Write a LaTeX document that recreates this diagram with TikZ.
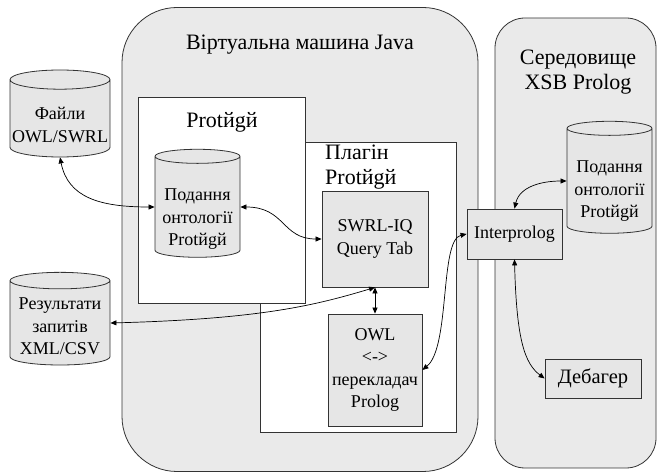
\documentclass[tikz,border=0pt]{standalone}
\usepackage{fontspec}
\setmainfont{Liberation Serif}
\usepackage{tikz}
\usetikzlibrary{arrows.meta, positioning, shapes.geometric}

\definecolor{panelgray}{RGB}{234,234,234}
\definecolor{boxgray}{RGB}{230,230,230}
\newcommand{\bigtext}{\fontsize{22}{25}\selectfont}
\newcommand{\boxtext}{\fontsize{18}{22.5}\selectfont}
% text of a store, lowered a little below the middle of the cylinder
\newcommand{\storelines}[2]{\raisebox{-#1}[\height][\depth]{\begin{tabular}{@{}c@{}}#2\end{tabular}}}

\begin{document}
\begin{tikzpicture}[x=1pt, y=-1pt,
        panel/.style={rectangle, draw=black!80, fill=panelgray, line width=0.8pt},
        frame/.style={rectangle, draw=black!80, fill=white, line width=0.8pt},
        box/.style={rectangle, draw=black!80, fill=boxgray, line width=0.8pt, align=center, inner sep=0pt, font=\boxtext},
        store/.style={cylinder, shape border rotate=90, aspect=0.2, draw=black!80, line width=0.8pt, cylinder uses custom fill, cylinder body fill=boxgray, cylinder end fill=boxgray, inner sep=0pt, font=\boxtext},
        title/.style={align=center, inner sep=0pt, font=\bigtext},
        link/.style={{Triangle[length=6pt,width=5pt]}-{Triangle[length=6pt,width=5pt]}, line width=0.7pt},
    ]
        \useasboundingbox (0,0) rectangle (657,473);

        % Containers
        \node[panel, rounded corners=55pt, minimum width=356pt, minimum height=464pt] (jvm) at (300,239.5) {};
        \node[panel, rounded corners=30pt, minimum width=161pt, minimum height=450pt] (xsb) at (575.5,243) {};
        \node[frame, minimum width=196pt, minimum height=290pt] (plugin) at (358,287) {};
        \node[frame, minimum width=167pt, minimum height=206pt] (protege) at (221.5,200) {};

        % Titles
        \node[title] (jvmtitle) at (300,45) {Віртуальна машина Java};
        \node[title] (xsbtitle) at (578,72) {Середовище\\XSB Prolog};
        \node[title] (protegetitle) at (222,122) {Protйgй};
        \node[title, align=left, anchor=west] (plugintitle) at (325,167) {Плагін\\Protйgй};

        % Boxes
        \node[box, minimum width=106pt, minimum height=96pt] (swrl) at (375,239) {SWRL-IQ\\Query Tab};
        \node[box, minimum width=94pt, minimum height=112pt] (owl) at (375,370) {OWL\\<->\\перекладач\\Prolog};
        \node[box, minimum width=95pt, minimum height=50pt] (interprolog) at (514.5,234) {Interprolog};
        \node[box, minimum width=96pt, minimum height=39pt, font=\fontsize{20.5}{24}\selectfont] (debugger) at (593,378.5) {Дебагер};

        % Stores
        \node[store, minimum width=100pt, minimum height=87pt] (files) at (60,118.5) {\storelines{8pt}{Файли\\OWL/SWRL}};
        \node[store, minimum width=85pt, minimum height=108pt] (localonto) at (197.5,207) {\storelines{12pt}{Подання\\онтології\\Protйgй}};
        \node[store, minimum width=100pt, minimum height=90pt] (results) at (60,323) {\storelines{5pt}{Результати\\запитів\\XML/CSV}};
        \node[store, minimum width=85pt, minimum height=112pt] (xsbonto) at (609.5,181) {\storelines{10pt}{Подання\\онтології\\Protйgй}};

        % Arrows
        \draw[link] (files.south) .. controls +(8,40) and +(-55,0) .. (localonto.west);
        \draw[link] (localonto.east) .. controls +(45,0) and +(-40,0) .. (swrl.west);
        \draw[link] (results.east) .. controls +(150,-4) and +(-60,18) .. (swrl.south);
        \draw[link] (swrl.south) -- (owl.north);
        \draw[link] (owl.east) .. controls +(28,-23) and +(-27,6) .. (interprolog.west);
        \draw[link] (interprolog.north) .. controls +(5,-22) and +(-25,0) .. (xsbonto.west);
        \draw[link] (interprolog.south) .. controls +(2,80) and +(-20,-15) .. (debugger.west);
    \end{tikzpicture}
\end{document}
